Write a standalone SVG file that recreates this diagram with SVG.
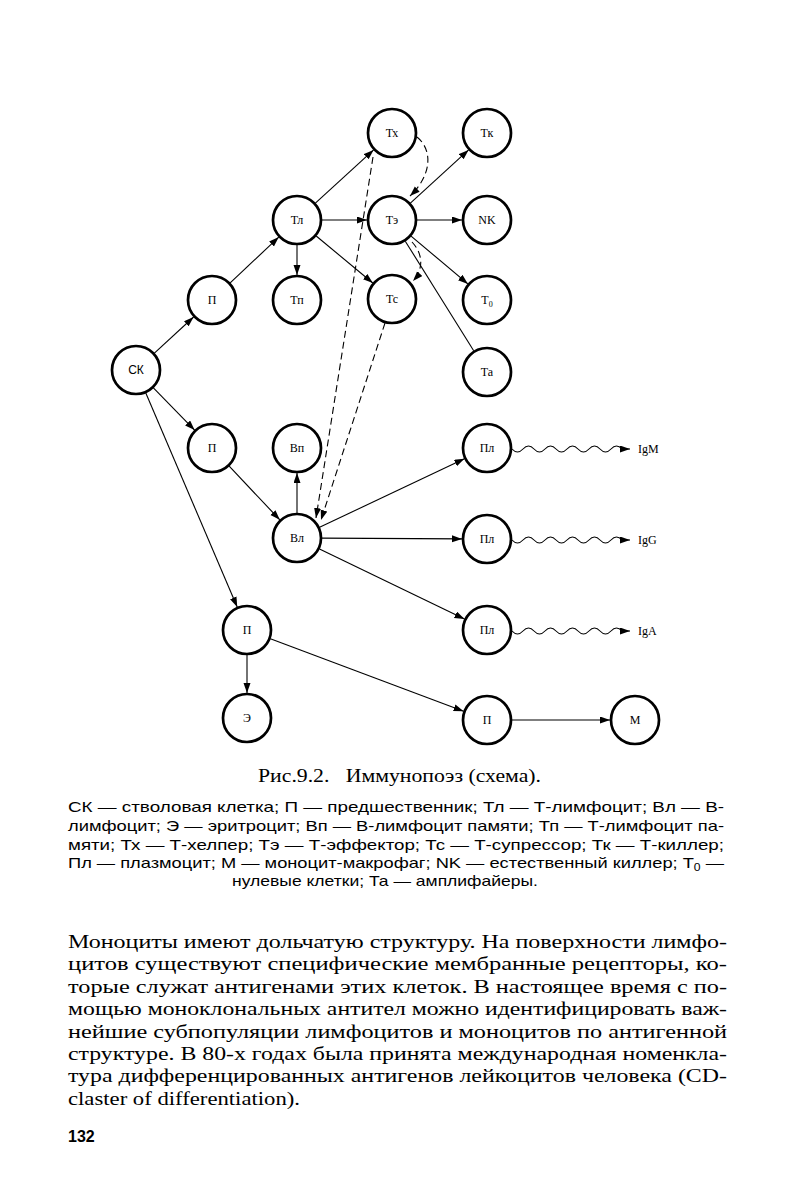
<svg xmlns="http://www.w3.org/2000/svg" width="794" height="1196" viewBox="0 0 794 1196">
<style>
.n circle{fill:#fff;stroke:#000;stroke-width:2.7}
.n text{font-family:"Liberation Serif",serif;font-size:12px;text-anchor:middle;fill:#000}
.c line,.c path{stroke:#000;stroke-width:1.1;fill:none}
.c .a{marker-end:url(#ar)}
.c .d{stroke-dasharray:7,4}
.lab{font-family:"Liberation Serif",serif;font-size:12px;fill:#000}
.cap{font-family:"Liberation Serif",serif;font-size:18px;fill:#000}
.leg{font-family:"Liberation Sans",sans-serif;font-size:15px;fill:#000}
.body{font-family:"Liberation Serif",serif;font-size:19px;fill:#000}
</style>
<defs>
<marker id="ar" markerUnits="userSpaceOnUse" markerWidth="11" markerHeight="8" refX="10" refY="3.5" orient="auto">
<path d="M0,0 L10,3.5 L0,7 z" fill="#000"/>
</marker>
</defs>
<rect width="794" height="1196" fill="#fff"/>
<g class="c" id="connectors">
<line class="a" x1="154.4" y1="353.1" x2="193.6" y2="317"/>
<line class="a" x1="230.2" y1="282.9" x2="278.8" y2="237.1"/>
<line class="a" x1="315.4" y1="203.1" x2="373.6" y2="149.9"/>
<line class="a" x1="322" y1="220" x2="367" y2="220"/>
<line class="a" x1="297" y1="245" x2="297" y2="275"/>
<line class="a" x1="316.2" y1="236" x2="372.8" y2="283"/>
<line class="a" x1="410.4" y1="203.1" x2="468.6" y2="149.9"/>
<line class="a" x1="417" y1="220" x2="462" y2="220"/>
<line class="a" x1="411.1" y1="236.1" x2="467.9" y2="283.9"/>
<line x1="405.3" y1="241.2" x2="473.7" y2="350.8"/>
<path class="a d" d="M417,137 C433,150 432,175 410,196"/>
<path class="a d" d="M412,242 C424,255 423,270 413,281"/>
<line class="a d" x1="373" y1="157" x2="316" y2="518"/>
<line class="a d" x1="385" y1="323" x2="321" y2="520"/>
<line class="a" x1="153.4" y1="387.9" x2="194.6" y2="430.1"/>
<line class="a" x1="145.8" y1="393" x2="237.2" y2="607"/>
<line class="a" x1="229.2" y1="466.2" x2="279.8" y2="519.8"/>
<line class="a" x1="297" y1="513" x2="297" y2="473"/>
<line class="a" x1="319.6" y1="527.3" x2="464.4" y2="458.7"/>
<line class="a" x1="322" y1="538.1" x2="462" y2="538.9"/>
<line class="a" x1="319.5" y1="548.9" x2="464.5" y2="619.1"/>
<line class="a" x1="247" y1="655" x2="247" y2="693"/>
<line class="a" x1="270.4" y1="638.8" x2="463.6" y2="711.2"/>
<line class="a" x1="512" y1="720" x2="610" y2="720"/>
<path class="a" d="M512,449 q5.5,6 11,0 t11,0 t11,0 t11,0 t11,0 t11,0 t11,0 t11,0 t11,0 t11,0 l8,0"/>
<path class="a" d="M512,540 q5.5,6 11,0 t11,0 t11,0 t11,0 t11,0 t11,0 t11,0 t11,0 t11,0 t11,0 l8,0"/>
<path class="a" d="M512,631 q5.5,6 11,0 t11,0 t11,0 t11,0 t11,0 t11,0 t11,0 t11,0 t11,0 t11,0 l8,0"/>
</g>
<g class="n" id="n-tx"><circle cx="392" cy="133" r="24"/><text x="392" y="137">Тх</text></g>
<g class="n" id="n-tk"><circle cx="487" cy="133" r="24"/><text x="487" y="137">Тк</text></g>
<g class="n" id="n-tl"><circle cx="297" cy="220" r="24"/><text x="297" y="224">Тл</text></g>
<g class="n" id="n-te"><circle cx="392" cy="220" r="24"/><text x="392" y="224">Тэ</text></g>
<g class="n" id="n-nk"><circle cx="487" cy="220" r="24"/><text x="487" y="224">NK</text></g>
<g class="n" id="n-p1"><circle cx="212" cy="300" r="24"/><text x="212" y="304">П</text></g>
<g class="n" id="n-tp"><circle cx="297" cy="300" r="24"/><text x="297" y="304">Тп</text></g>
<g class="n" id="n-tc"><circle cx="392" cy="299" r="24"/><text x="392" y="303">Тс</text></g>
<g class="n" id="n-t0"><circle cx="487" cy="300" r="24"/><text x="487" y="304">Т<tspan font-size="8" dy="3">0</tspan></text></g>
<g class="n" id="n-sk"><circle cx="136" cy="370" r="24"/><text x="136" y="374" style="font-family:'Liberation Sans',sans-serif">СК</text></g>
<g class="n" id="n-ta"><circle cx="487" cy="372" r="24"/><text x="487" y="376">Та</text></g>
<g class="n" id="n-p2"><circle cx="212" cy="448" r="24"/><text x="212" y="452">П</text></g>
<g class="n" id="n-vp"><circle cx="297" cy="448" r="24"/><text x="297" y="452">Вп</text></g>
<g class="n" id="n-pl1"><circle cx="487" cy="448" r="24"/><text x="487" y="452">Пл</text></g>
<g class="n" id="n-vl"><circle cx="297" cy="538" r="24"/><text x="297" y="542">Вл</text></g>
<g class="n" id="n-pl2"><circle cx="487" cy="539" r="24"/><text x="487" y="543">Пл</text></g>
<g class="n" id="n-p3"><circle cx="247" cy="630" r="24"/><text x="247" y="634">П</text></g>
<g class="n" id="n-pl3"><circle cx="487" cy="630" r="24"/><text x="487" y="634">Пл</text></g>
<g class="n" id="n-e"><circle cx="247" cy="718" r="24"/><text x="247" y="722">Э</text></g>
<g class="n" id="n-p4"><circle cx="487" cy="720" r="24"/><text x="487" y="724">П</text></g>
<g class="n" id="n-m"><circle cx="635" cy="720" r="24"/><text x="635" y="724">М</text></g>
<g id="ig-labels">
<text class="lab" x="638" y="453">IgM</text>
<text class="lab" x="638" y="544">IgG</text>
<text class="lab" x="638" y="635">IgA</text>
</g>
<g id="caption">
<text class="cap" x="258" y="782" textLength="283" lengthAdjust="spacingAndGlyphs" xml:space="preserve">Рис.9.2.   Иммунопоэз (схема).</text>
<text class="leg" x="68" y="812" textLength="656" lengthAdjust="spacingAndGlyphs">СК — стволовая клетка; П — предшественник; Тл — Т-лимфоцит; Вл — В-</text>
<text class="leg" x="68" y="831" textLength="656" lengthAdjust="spacingAndGlyphs">лимфоцит; Э — эритроцит; Вп — В-лимфоцит памяти; Тп — Т-лимфоцит па-</text>
<text class="leg" x="68" y="850" textLength="656" lengthAdjust="spacingAndGlyphs">мяти; Тх — Т-хелпер; Тэ — Т-эффектор; Тс — Т-супрессор; Тк — Т-киллер;</text>
<text class="leg" x="68" y="868" textLength="656" lengthAdjust="spacingAndGlyphs">Пл — плазмоцит; М — моноцит-макрофаг; NK — естественный киллер; T<tspan font-size="10" dy="3">0</tspan><tspan dy="-3"> —</tspan></text>
<text class="leg" x="232" y="886" textLength="306" lengthAdjust="spacingAndGlyphs">нулевые клетки; Та — амплифайеры.</text>
</g>
<g id="body">
<text class="body" x="68" y="948" textLength="659" lengthAdjust="spacingAndGlyphs">Моноциты имеют дольчатую структуру. На поверхности лимфо-</text>
<text class="body" x="68" y="970.4" textLength="659" lengthAdjust="spacingAndGlyphs">цитов существуют специфические мембранные рецепторы, ко-</text>
<text class="body" x="68" y="992.8" textLength="659" lengthAdjust="spacingAndGlyphs">торые служат антигенами этих клеток. В настоящее время с по-</text>
<text class="body" x="68" y="1015.2" textLength="659" lengthAdjust="spacingAndGlyphs">мощью моноклональных антител можно идентифицировать важ-</text>
<text class="body" x="68" y="1037.6" textLength="659" lengthAdjust="spacingAndGlyphs">нейшие субпопуляции лимфоцитов и моноцитов по антигенной</text>
<text class="body" x="68" y="1060" textLength="659" lengthAdjust="spacingAndGlyphs">структуре. В 80-х годах была принята международная номенкла-</text>
<text class="body" x="68" y="1082.4" textLength="659" lengthAdjust="spacingAndGlyphs">тура дифференцированных антигенов лейкоцитов человека (CD-</text>
<text class="body" x="68" y="1104.8" textLength="232" lengthAdjust="spacingAndGlyphs">claster of differentiation).</text>
<text x="68" y="1142" style="font-family:'Liberation Sans',sans-serif;font-size:16px;font-weight:bold">132</text>
</g>
</svg>
